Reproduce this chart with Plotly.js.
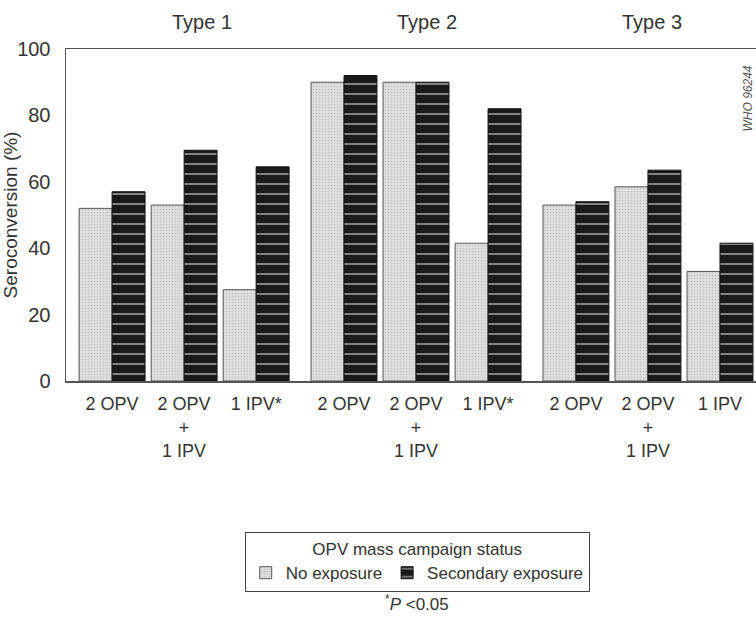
<!DOCTYPE html>
<html>
<head>
<meta charset="utf-8">
<script src="https://cdn.plot.ly/plotly-3.0.1.min.js"></script>
<style>html,body{margin:0;padding:0;background:#fff;}#chart{width:756px;height:619px;}</style>
</head>
<body>
<div id="chart"></div>
<script>
// ---- data ----
const poliovirusTypes = ['Type 1', 'Type 2', 'Type 3'];
const regimenLabels = [
  '2 OPV', '2 OPV<br>+<br>1 IPV', '1 IPV*',
  '2 OPV', '2 OPV<br>+<br>1 IPV', '1 IPV*',
  '2 OPV', '2 OPV<br>+<br>1 IPV', '1 IPV'
];
const noExposure        = [52, 53, 27.5, 90, 90, 41.5, 53, 58.5, 33];
const secondaryExposure = [57, 69.5, 64.5, 92, 90, 82, 54, 63.5, 41.5];
const seriesNames = ['No exposure', 'Secondary exposure'];

// ---- layout helpers ----
const perGroup = 3;
const groupStep = 3.22;
const xPos = regimenLabels.map((_, i) => Math.floor(i / perGroup) * groupStep + (i % perGroup));

const font = 'Liberation Sans, Arial, Helvetica, sans-serif';
const ink = '#333';

const traces = [
  {
    type: 'bar', name: seriesNames[0], x: xPos, y: noExposure,
    marker: {
      color: '#e0e0e0',
      line: {color: '#555', width: 1},
      pattern: {shape: '.', fillmode: 'overlay', fgcolor: '#9a9a9a', size: 3, solidity: 0.25}
    },
    hoverinfo: 'y'
  },
  {
    type: 'bar', name: seriesNames[1], x: xPos, y: secondaryExposure,
    marker: {
      color: '#1a1a1a',
      line: {color: '#111', width: 1},
      pattern: {shape: '-', fillmode: 'overlay', fgcolor: '#eeeeee', size: 10, solidity: 0.2}
    },
    hoverinfo: 'y'
  }
];

const annotations = poliovirusTypes.map((t, g) => ({
  text: t, xref: 'x', yref: 'paper',
  x: g * groupStep + 1 + [0.25, 0.15, 0.05][g], y: 1.0,
  yanchor: 'bottom', showarrow: false,
  font: {family: font, size: 20, color: ink}, yshift: 14
}));
annotations.push({
  text: '<sup>*</sup><i>P</i> &lt;0.05', xref: 'paper', yref: 'paper',
  x: 0.509, y: -0.668, showarrow: false, xanchor: 'center', yanchor: 'middle',
  font: {family: font, size: 17, color: ink}
});
annotations.push({
  text: '<i>WHO 96244</i>', xref: 'paper', yref: 'paper',
  x: 0.988, y: 0.85, showarrow: false, textangle: -90, xanchor: 'center', yanchor: 'middle',
  font: {family: font, size: 12, color: '#555'}
});

const layout = {
  width: 756, height: 619,
  margin: {l: 66, r: 0, t: 49, b: 238},
  paper_bgcolor: '#fff', plot_bgcolor: '#fff',
  barmode: 'group', bargap: 0.085, bargroupgap: 0,
  showlegend: true,
  font: {family: font, color: ink},
  xaxis: {
    range: [-0.64, 8.94],
    tickmode: 'array', tickvals: xPos, ticktext: regimenLabels,
    tickfont: {family: font, size: 18, color: ink},
    showline: true, mirror: true, linecolor: '#555', linewidth: 1.5,
    showgrid: false, zeroline: false,
    ticks: 'outside', ticklen: 6, tickcolor: 'rgba(0,0,0,0)'
  },
  yaxis: {
    range: [0, 100], tickvals: [0, 20, 40, 60, 80, 100],
    tickfont: {family: font, size: 20, color: ink},
    title: {text: 'Seroconversion (%)', font: {family: font, size: 19, color: ink}, standoff: 4},
    showline: true, linecolor: '#555', linewidth: 1.5,
    showgrid: false, zeroline: false,
    ticks: 'outside', ticklen: 10, tickcolor: 'rgba(0,0,0,0)'
  },
  legend: {
    orientation: 'h', x: 0.509, xanchor: 'center', y: -0.455, yanchor: 'top',
    bordercolor: '#444', borderwidth: 1, bgcolor: '#fff',
    font: {family: font, size: 17, color: ink},
    title: {text: 'OPV mass campaign status', side: 'top center', font: {family: font, size: 17, color: ink}},
    itemwidth: 30, traceorder: 'normal'
  },
  annotations: annotations
};

Plotly.newPlot('chart', traces, layout, {displayModeBar: false, staticPlot: true});
</script>
</body>
</html>
